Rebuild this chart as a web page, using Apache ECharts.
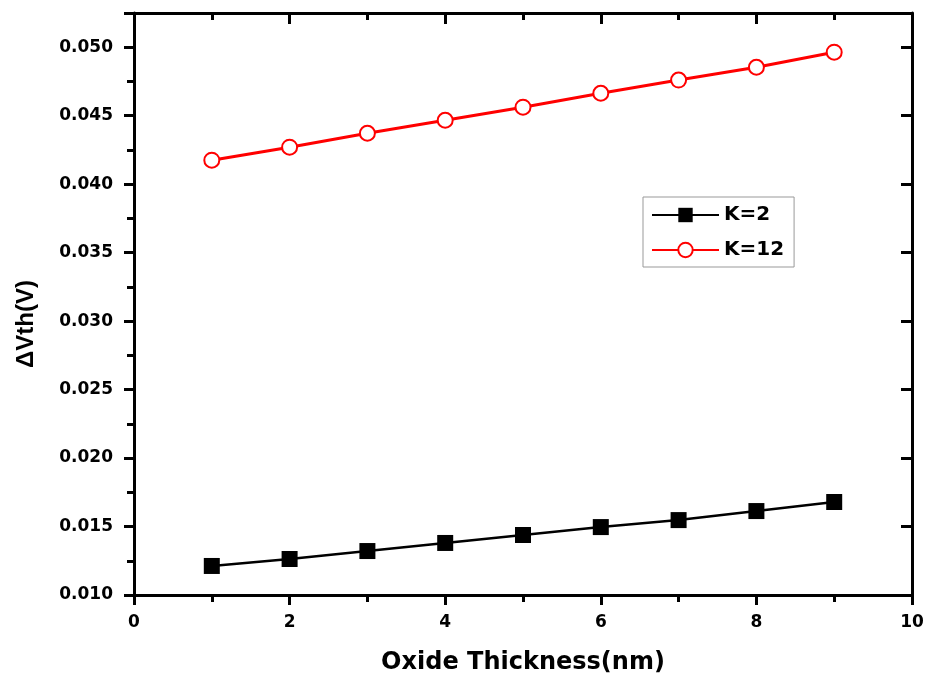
<!DOCTYPE html>
<html>
<head>
<meta charset="utf-8">
<script src="https://cdn.jsdelivr.net/npm/echarts@6/dist/echarts.min.js"></script>
<style>html,body{margin:0;padding:0;background:#fff;}#c{width:926px;height:677px;}</style>
</head>
<body>
<div id="c"></div>
<script>
const thickness = [1, 2, 3, 4, 5, 6, 7, 8, 9];
const k2Values = [0.01212, 0.01263, 0.01321, 0.01380, 0.01438, 0.01496, 0.01547, 0.01613, 0.01679];
const k12Values = [0.04175, 0.04270, 0.04372, 0.04467, 0.04562, 0.04664, 0.04760, 0.04854, 0.04964];
const seriesNames = ['K=2', 'K=12'];
const xTitle = 'Oxide Thickness(nm)';
const yTitle = 'ΔVth(V)';

const hFont = 'DejaVu Sans';
const yMin = 0.010, yMax = 0.0525;

function yLabel(v) {
  const r = v * 200;
  return Math.abs(r - Math.round(r)) < 1e-6 ? v.toFixed(3) : '';
}

const chart = echarts.init(document.getElementById('c'), null, {renderer: 'canvas'});
const axisLine = {show: true, onZero: false, lineStyle: {color: '#000', width: 3}};
const option = {
  animation: false,
  backgroundColor: '#fff',
  grid: {left: 134, right: 14, top: 13, bottom: 82, containLabel: false, outerBoundsMode: 'none'},
  legend: {
    orient: 'vertical',
    left: 643, top: 197,
    data: seriesNames,
    itemWidth: 67, itemHeight: 18, itemGap: 15,
    padding: [8, 10, 7, 8],
    borderColor: '#999', borderWidth: 1,
    textStyle: {fontFamily: hFont, fontWeight: 'bold', fontSize: 20, color: '#000'}
  },
  xAxis: [
    {
      type: 'value', position: 'bottom', min: 0, max: 10, interval: 2,
      axisLine: axisLine,
      axisTick: {show: true, inside: false, length: 10, lineStyle: {width: 3, color: '#000'}},
      minorTick: {show: true, splitNumber: 2, length: 7, lineStyle: {width: 3, color: '#000'}},
      splitLine: {show: false},
      axisLabel: {margin: 19, fontFamily: hFont, fontWeight: 'bold', fontSize: 17, color: '#000'},
      name: xTitle, nameLocation: 'middle', nameGap: 56,
      nameTextStyle: {fontFamily: hFont, fontWeight: 'bold', fontSize: 24, color: '#000'}
    },
    {
      type: 'value', position: 'top', min: 0, max: 10, interval: 2,
      axisLine: axisLine,
      axisTick: {show: true, inside: true, length: 11, lineStyle: {width: 3, color: '#000'}},
      minorTick: {show: true, splitNumber: 2, length: 7, lineStyle: {width: 3, color: '#000'}},
      splitLine: {show: false},
      axisLabel: {show: false}
    }
  ],
  yAxis: [
    {
      type: 'value', position: 'left', min: yMin, max: yMax, interval: 0.005,
      axisLine: axisLine,
      axisTick: {show: true, inside: false, length: 10, lineStyle: {width: 3, color: '#000'}},
      splitLine: {show: false},
      axisLabel: {margin: 21, formatter: yLabel, fontFamily: hFont, fontWeight: 'bold', fontSize: 17, color: '#000'},
      name: yTitle, nameLocation: 'middle', nameGap: 96,
      nameTextStyle: {fontFamily: 'Liberation Sans', fontWeight: 'bold', fontSize: 24, color: '#000', padding: [0, 40, 0, 0]}
    },
    {
      type: 'value', position: 'left', min: yMin, max: yMax, interval: 0.0025,
      axisLine: {show: false},
      axisTick: {show: true, inside: false, length: 6, lineStyle: {width: 3, color: '#000'}},
      splitLine: {show: false},
      axisLabel: {show: false}
    },
    {
      type: 'value', position: 'right', min: yMin, max: yMax, interval: 0.005,
      axisLine: axisLine,
      axisTick: {show: true, inside: true, length: 11, lineStyle: {width: 3, color: '#000'}},
      splitLine: {show: false},
      axisLabel: {show: false}
    },
    {
      type: 'value', position: 'right', min: yMin, max: yMax, interval: 0.0025,
      axisLine: {show: false},
      axisTick: {show: true, inside: true, length: 7, lineStyle: {width: 3, color: '#000'}},
      splitLine: {show: false},
      axisLabel: {show: false}
    }
  ],
  series: [
    {
      name: seriesNames[0], type: 'line', xAxisIndex: 0, yAxisIndex: 0,
      data: thickness.map((x, i) => [x, k2Values[i]]),
      color: '#000',
      symbol: 'rect', symbolSize: 16,
      lineStyle: {color: '#000', width: 2.5},
      itemStyle: {color: '#000'},
      z: 3
    },
    {
      name: seriesNames[1], type: 'line', xAxisIndex: 0, yAxisIndex: 0,
      data: thickness.map((x, i) => [x, k12Values[i]]),
      color: '#ff0000',
      symbol: 'emptyCircle', symbolSize: 15, showAllSymbol: true,
      lineStyle: {color: '#ff0000', width: 3},
      itemStyle: {color: '#ff0000', borderWidth: 2.5},
      z: 3
    }
  ]
};
chart.setOption(option);
</script>
</body>
</html>
